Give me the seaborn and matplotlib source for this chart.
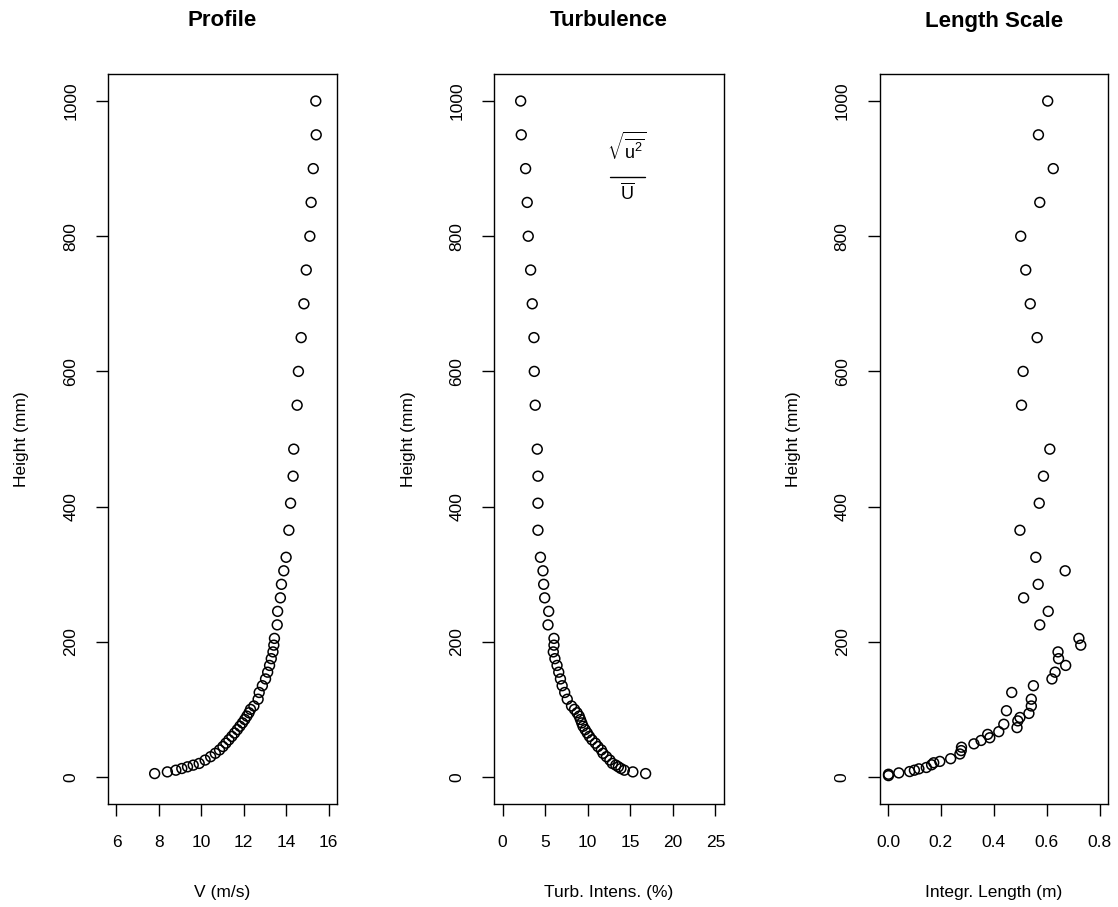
import matplotlib
matplotlib.use("Agg")
import matplotlib.pyplot as plt
import seaborn as sns
import pandas as pd

# ---------------- data ----------------
height = [1000, 950, 900, 850, 800, 750, 700, 650, 600, 550,
          485, 445, 405, 365, 325,
          305, 285, 265, 245, 225, 205,
          195, 185, 175, 165, 155, 145, 135, 125, 115, 105,
          100, 95, 90, 85, 80, 75, 70, 65, 60, 55, 50, 45, 40, 35, 30, 25, 20,
          17.5, 15, 12.5, 10, 7.5, 5]

velocity = [15.40, 15.42, 15.28, 15.18, 15.12, 14.95, 14.84, 14.71, 14.58, 14.52,
            14.36, 14.33, 14.21, 14.13, 14.00,
            13.89, 13.78, 13.73, 13.60, 13.58, 13.45,
            13.42, 13.38, 13.30, 13.22, 13.13, 13.03, 12.88, 12.73, 12.68, 12.48,
            12.32, 12.25, 12.15, 12.05, 11.94, 11.82, 11.70, 11.57, 11.44, 11.30,
            11.16, 11.02, 10.86, 10.66, 10.44, 10.18, 9.90,
            9.62, 9.35, 9.08, 8.80, 8.40, 7.80]

turbulence = [2.13, 2.20, 2.71, 2.90, 3.02, 3.30, 3.49, 3.69, 3.73, 3.84,
              4.08, 4.16, 4.16, 4.16, 4.45,
              4.75, 4.83, 4.95, 5.42, 5.34, 6.04,
              6.04, 5.96, 6.15, 6.40, 6.60, 6.80, 7.00, 7.30, 7.60, 8.10,
              8.45, 8.75, 9.00, 9.15, 9.30, 9.45, 9.70, 9.95, 10.2, 10.5,
              10.9, 11.2, 11.6, 11.8, 12.2, 12.6, 12.9,
              13.3, 13.6, 13.9, 14.3, 15.3, 16.8]

height_ls = [1000, 950, 900, 850, 800, 750, 700, 650, 600, 550,
             485, 445, 405, 365, 325,
             305, 285, 265, 245, 225, 205,
             195, 185, 175, 165, 155, 145, 135, 125, 115, 105,
             98, 94, 88, 83, 78, 73, 67, 63, 58, 54, 49, 44, 39, 34, 27,
             23, 21, 18, 14, 12, 10, 8, 6, 4, 2]

length_scale = [0.604, 0.569, 0.625, 0.574, 0.502, 0.521, 0.538, 0.564, 0.511, 0.505,
                0.612, 0.588, 0.572, 0.499, 0.559,
                0.670, 0.568, 0.513, 0.606, 0.574, 0.722,
                0.729, 0.643, 0.645, 0.672, 0.632, 0.620, 0.550, 0.468, 0.542, 0.542,
                0.448, 0.533, 0.499, 0.491, 0.438, 0.488, 0.419, 0.377, 0.385, 0.352,
                0.325, 0.278, 0.277, 0.272, 0.237, 0.196, 0.173, 0.165, 0.145, 0.117,
                0.100, 0.082, 0.041, 0.002, 0.002]

titles = ["Profile", "Turbulence", "Length Scale"]
xlabels = ["V (m/s)", "Turb. Intens. (%)", "Integr. Length (m)"]
ylabel = "Height (mm)"
xticks = [[6, 8, 10, 12, 14, 16], [0, 5, 10, 15, 20, 25], [0.0, 0.2, 0.4, 0.6, 0.8]]
xticklabels = [["6", "8", "10", "12", "14", "16"],
               ["0", "5", "10", "15", "20", "25"],
               ["0.0", "0.2", "0.4", "0.6", "0.8"]]
xranges = [(6, 16), (0, 25), (0, 0.8)]
yticks = [0, 200, 400, 600, 800, 1000]
yrange = (0, 1000)

# formula annotation (turbulence panel), in data units
formula_num = r"$\sqrt{\overline{\mathrm{u}^2}}$"
formula_den = r"$\overline{\mathrm{U}}$"
formula_x = 14.55
formula_num_y = 930
formula_den_y = 864
formula_bar_x = [12.6, 16.75]
formula_bar_y = 888

# ---------------- styling ----------------
sns.set_style("white")
plt.rcParams["font.family"] = ["Liberation Sans", "DejaVu Sans"]
plt.rcParams["mathtext.fontset"] = "custom"
plt.rcParams["mathtext.rm"] = "Liberation Sans"
plt.rcParams["mathtext.it"] = "Liberation Sans"
plt.rcParams["mathtext.bf"] = "Liberation Sans:bold"
for key in ["text.color", "axes.labelcolor", "xtick.color", "ytick.color", "axes.edgecolor"]:
    plt.rcParams[key] = "black"

FS = 12.5
fig = plt.figure(figsize=(11.18, 9.07), dpi=100)

W, H = 1118.0, 907.0
boxes = [(108, 337), (494, 724), (879.5, 1108)]
top_px, bot_px = 74, 804

frames = [
    pd.DataFrame({"x": velocity, "y": height}),
    pd.DataFrame({"x": turbulence, "y": height}),
    pd.DataFrame({"x": length_scale, "y": height_ls}),
]

for i, (l, r) in enumerate(boxes):
    ax = fig.add_axes([l / W, 1 - bot_px / H, (r - l) / W, (bot_px - top_px) / H])
    sns.scatterplot(data=frames[i], x="x", y="y", ax=ax, marker="o", s=50,
                    facecolors="none", edgecolor="black", linewidth=1.1)
    x0, x1 = xranges[i]
    dx = (x1 - x0) * 0.04
    ax.set_xlim(x0 - dx, x1 + dx)
    dy = (yrange[1] - yrange[0]) * 0.04
    ax.set_ylim(yrange[0] - dy, yrange[1] + dy)

    ax.set_xticks(xticks[i])
    ax.set_xticklabels(xticklabels[i], fontsize=FS)
    ax.set_yticks(yticks)
    ax.set_yticklabels([str(v) for v in yticks], fontsize=FS, rotation=90, va="center")
    ax.tick_params(axis="both", direction="out", length=8.5, width=1.0, color="black",
                   labelcolor="black", bottom=True, left=True, top=False, right=False)
    ax.tick_params(axis="x", pad=14)
    ax.tick_params(axis="y", pad=13)

    for sp in ax.spines.values():
        sp.set_visible(True)
        sp.set_color("black")
        sp.set_linewidth(1.0)

    pw = r - l
    ph = bot_px - top_px
    ax.set_xlabel(xlabels[i], fontsize=FS, va="center", color="black")
    ax.xaxis.set_label_coords(0.5, -88 / ph)
    ax.set_ylabel(ylabel, fontsize=FS, va="center", ha="center", color="black")
    ax.yaxis.set_label_coords(-86 / pw, 0.5)
    ax.text(0.5, 1 + 53 / ph, titles[i], transform=ax.transAxes, ha="center",
            va="center", fontsize=16, fontweight="bold", color="black")

    if i == 1:
        ax.text(formula_x, formula_num_y, formula_num, ha="center", va="center",
                fontsize=13, color="black")
        ax.text(formula_x + 0.15, formula_den_y, formula_den, ha="center", va="center",
                fontsize=13, color="black")
        ax.plot(formula_bar_x, [formula_bar_y, formula_bar_y], color="black", lw=1.0)

fig.savefig("out.png", dpi=100)
